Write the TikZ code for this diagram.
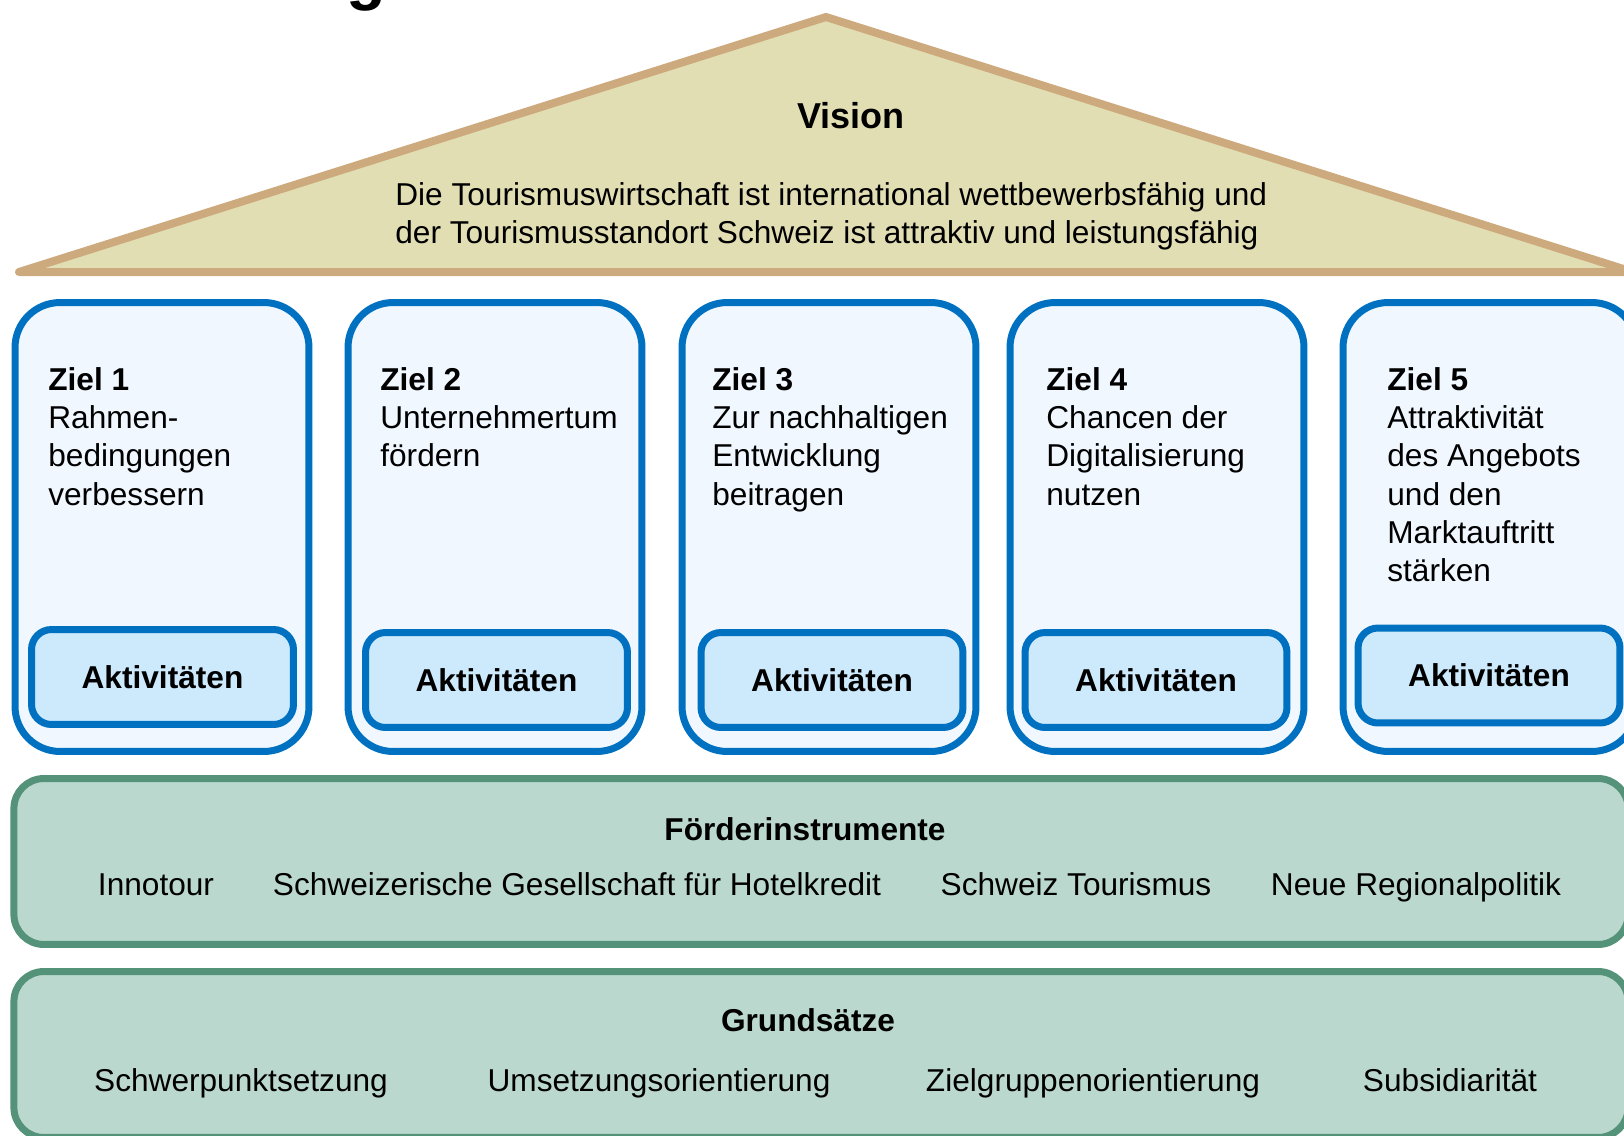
\documentclass[tikz,border=0pt]{standalone}
\usepackage{fontspec}
\setmainfont{Liberation Sans}
\usetikzlibrary{positioning}
\definecolor{roofline}{RGB}{205,170,125}
\definecolor{rooffill}{RGB}{226,222,180}
\definecolor{zielblue}{RGB}{0,112,192}
\definecolor{zielfill}{RGB}{240,247,254}
\definecolor{aktfill}{RGB}{204,234,252}
\definecolor{baseline}{RGB}{84,146,122}
\definecolor{basefill}{RGB}{187,216,206}

\tikzset{
  zielbox/.style={draw=zielblue, fill=zielfill, line width=0.14cm, rounded corners=0.9cm,
    minimum width=5.88cm, minimum height=8.98cm, inner sep=0pt},
  aktbox/.style={draw=zielblue, fill=aktfill, line width=0.14cm, rounded corners=0.4cm,
    minimum width=5.24cm, minimum height=1.9cm, inner sep=0pt, font=\bfseries\normtext},
  ziellabel/.style={anchor=north west, inner sep=0pt, align=left, font=\normtext},
  basebox/.style={draw=baseline, fill=basefill, line width=0.14cm, rounded corners=0.6cm,
    minimum width=32.29cm, minimum height=3.32cm, inner sep=0pt},
  itemtext/.style={anchor=base, inner sep=0pt, font=\normtext}
}
\newcommand{\normtext}{\fontsize{18}{21.8}\selectfont}

\begin{document}
\begin{tikzpicture}[x=0.02cm, y=-0.02cm]
  \useasboundingbox (0,0) rectangle (1624,1136);
  \node[anchor=base, inner sep=0pt, font=\bfseries\fontsize{37}{40}\selectfont] (titel) at (366,-3) {g};

  % Dach
  \draw[roofline, fill=rooffill, line width=0.16cm, line join=round] (19,272) -- (826,17) -- (1633,272) -- cycle;
  \node[anchor=base, inner sep=0pt, font=\bfseries\fontsize{20.5}{24}\selectfont] (vision) at (851,128) {Vision};
  \node[anchor=north west, inner sep=0pt, align=left, font=\fontsize{18}{21.5}\selectfont] (visiontext) at (395,182)
    {Die Tourismuswirtschaft ist international wettbewerbsfähig und\\der Tourismusstandort Schweiz ist attraktiv und leistungsfähig};

  % Ziele
  \foreach \i/\x/\tx/\ax/\ay/\t in {1/162/48/162.5/677/{Rahmen-\\bedingungen\\verbessern},
      2/495/380/496.5/680/{Unternehmertum\\fördern},
      3/829/712/832/680/{Zur nachhaltigen\\Entwicklung\\beitragen},
      4/1157/1046/1156/680/{Chancen der\\Digitalisierung\\nutzen},
      5/1490/1387/1489/675.5/{Attraktivität\\des Angebots\\und den\\Marktauftritt\\stärken}}
  {
    \node[zielbox] (ziel\i) at (\x,527) {};
    \node[ziellabel] (zieltext\i) at (\tx,367) {\textbf{Ziel \i}\\\t};
    \node[aktbox] (akt\i) at (\ax,\ay) {Aktivitäten};
    }

  % Förderinstrumente und Grundsätze
  \node[basebox] (foerder) at (821,861.5) {};
  \node[itemtext, font=\bfseries\normtext] (foerdertitel) at (805,840) {Förderinstrumente};
  \foreach \x/\t [count=\n] in {156/Innotour, 577/Schweizerische Gesellschaft für Hotelkredit, 1076/Schweiz Tourismus, 1416/Neue Regionalpolitik}
    \node[itemtext] (instrument\n) at (\x,895) {\t};

  \node[basebox] (grund) at (821,1054.5) {};
  \node[itemtext, font=\bfseries\normtext] (grundtitel) at (808,1031) {Grundsätze};
  \foreach \x/\t [count=\n] in {241/Schwerpunktsetzung, 659/Umsetzungsorientierung, 1093/Zielgruppenorientierung, 1450/Subsidiarität}
    \node[itemtext] (grundsatz\n) at (\x,1091) {\t};
\end{tikzpicture}
\end{document}
